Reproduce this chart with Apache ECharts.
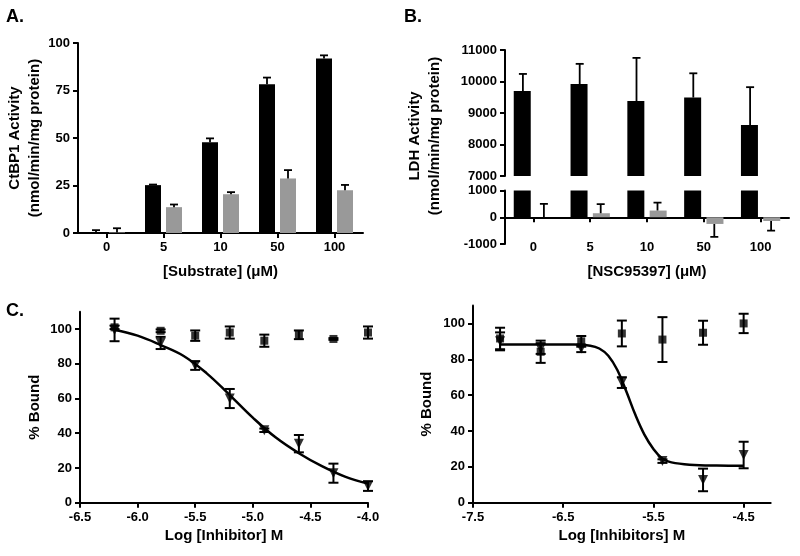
<!DOCTYPE html>
<html><head><meta charset="utf-8">
<script src="https://cdn.jsdelivr.net/npm/echarts@6/dist/echarts.min.js"></script>
<style>html,body{margin:0;padding:0;background:#fff}#c{width:800px;height:556px}</style>
</head><body><div id="c"></div>
<script>
// Panel A
const substrateCats = ['0', '5', '10', '50', '100'];
const ctbpBlack = [0.3, 25.2, 47.7, 78.3, 91.9];
const ctbpBlackErr = [1.2, 0.3, 2.1, 3.5, 1.6];
const ctbpGray = [0.3, 13.6, 20.4, 28.7, 22.5];
const ctbpGrayErr = [2.2, 1.4, 1.1, 4.4, 2.8];

// Panel B
const nscCats = ['0', '5', '10', '50', '100'];
const ldhBlack = [9700, 9920, 9380, 9490, 8620];
const ldhBlackErr = [540, 640, 1370, 770, 1200];
const ldhGray = [0, 150, 250, -250, -140];
const ldhGrayErr = [500, 340, 300, 480, 360];

// Panel C (left)
const logInhibA = [-6.2, -5.8, -5.5, -5.2, -4.9, -4.6, -4.3, -4.0];
const ctrlA = [101, 99, 96.2, 98, 93.3, 96.7, 94.3, 98];
const ctrlAErr = [1, 0.8, 3, 3.5, 3.5, 2.5, 0.5, 3.5];
const inhA = [99.5, 92, 79, 60, 41.7, 34, 17, 9.6];
const inhAErr = [6.5, 3.5, 2.5, 5.5, 1, 5, 5.5, 2.8];
const fitAX = [-6.2, -6.0, -5.8, -5.6, -5.4, -5.2, -5.0, -4.8, -4.6, -4.4, -4.2, -4.0];
const fitAY = [99.6, 96.2, 90.8, 84.5, 74.5, 62, 49, 37.5, 28.5, 21, 15, 11];

// Panel C (right)
const logInhibB = [-7.2, -6.75, -6.3, -5.85, -5.4, -4.95, -4.5];
const ctrlB = [91.6, 84.2, 90, 94.4, 91, 94.8, 100];
const ctrlBErr = [6, 6.2, 3, 7.2, 12.5, 6.7, 5.4];
const inhB = [90, 86, 86, 67, 23.2, 12.7, 26.6];
const inhBErr = [5, 3, 2, 3, 1, 6.3, 7.4];
const fitBX = [-7.2, -6.8, -6.4, -6.2, -6.1, -6.0, -5.9, -5.8, -5.7, -5.6, -5.5, -5.4, -5.3, -5.1, -4.8, -4.5];
const fitBY = [88.3, 88.3, 88.2, 87.6, 86, 82, 74, 62, 49, 38, 30, 24.5, 22.5, 21.2, 20.7, 20.6];
const logTicksB = [-7.5, -6.5, -5.5, -4.5];
const boundTicks = [0, 20, 40, 60, 80, 100];

const FONT = '"Liberation Sans", Arial, Helvetica, sans-serif';
const BLACK = '#000', GRAY = '#999999';
const BAR_W = 16, BAR_GAP = 5;
const OFF = (BAR_W + BAR_GAP) / 2;
const AXW = 2;
const lab = { color: BLACK, fontFamily: FONT, fontWeight: 'bold', fontSize: 13 };
const nameSty = { color: BLACK, fontFamily: FONT, fontWeight: 'bold', fontSize: 15 };

function barErr(xi, yi, vals, errs, side) {
  return {
    type: 'custom', xAxisIndex: xi, yAxisIndex: yi, z: 5, clip: true,
    data: vals.map((v, i) => [i, v, errs[i]]),
    renderItem(params, api) {
      const i = api.value(0), v = api.value(1), e = api.value(2);
      const end = v >= 0 ? v + e : v - e;
      const p1 = api.coord([i, v]), p2 = api.coord([i, end]);
      const x = p1[0] + side * OFF, cap = 4;
      const st = { stroke: BLACK, lineWidth: 1.8 };
      return { type: 'group', children: [
        { type: 'line', shape: { x1: x, y1: p1[1], x2: x, y2: p2[1] }, style: st },
        { type: 'line', shape: { x1: x - cap, y1: p2[1], x2: x + cap, y2: p2[1] }, style: st }
      ]};
    }
  };
}
function ptErr(xi, yi, xs, ys, errs) {
  return {
    type: 'custom', xAxisIndex: xi, yAxisIndex: yi, z: 4,
    data: xs.map((x, i) => [x, ys[i], errs[i]]),
    renderItem(params, api) {
      const x = api.value(0), y = api.value(1), e = api.value(2);
      const pt = api.coord([x, y + e]), pb = api.coord([x, y - e]);
      const cx = pt[0], cap = 5;
      const st = { stroke: BLACK, lineWidth: 2 };
      return { type: 'group', children: [
        { type: 'line', shape: { x1: cx, y1: pt[1], x2: cx, y2: pb[1] }, style: st },
        { type: 'line', shape: { x1: cx - cap, y1: pt[1], x2: cx + cap, y2: pt[1] }, style: st },
        { type: 'line', shape: { x1: cx - cap, y1: pb[1], x2: cx + cap, y2: pb[1] }, style: st }
      ]};
    }
  };
}
const axLine = { show: true, onZero: false, lineStyle: { color: BLACK, width: AXW } };
const axTick = { show: true, length: 5, lineStyle: { color: BLACK, width: AXW } };
const plain = v => String(v);

const option = {
  animation: false,
  backgroundColor: '#fff',
  grid: [
    { left: 78, top: 43, width: 285, height: 190 },
    { left: 505, top: 50, width: 284, height: 126 },
    { left: 505, top: 190.5, width: 284, height: 53.5 },
    { left: 80, top: 311.7, width: 288, height: 191 },
    { left: 473, top: 305.5, width: 297.7, height: 197.2 },
    { left: 505, top: 190.5, width: 284, height: 26.8 }
  ],
  xAxis: [
    { type: 'category', gridIndex: 0, data: substrateCats, axisLine: axLine,
      axisTick: Object.assign({ alignWithLabel: true, interval: 0 }, axTick),
      axisLabel: Object.assign({ margin: 8, interval: 0 }, lab),
      name: '[Substrate] (\u03bcM)', nameLocation: 'middle', nameGap: 31, nameTextStyle: nameSty },
    { type: 'category', gridIndex: 1, data: nscCats, show: false },
    { type: 'category', gridIndex: 2, data: nscCats, show: false },
    { type: 'value', gridIndex: 3, min: -6.5, max: -4.0, interval: 0.5, axisLine: axLine, axisTick: axTick,
      splitLine: { show: false },
      axisLabel: Object.assign({ margin: 8, formatter: v => v.toFixed(1) }, lab),
      name: 'Log [Inhibitor] M', nameLocation: 'middle', nameGap: 26, nameTextStyle: nameSty },
    { type: 'value', gridIndex: 4, min: -7.5, max: -4.2, axisLine: axLine,
      axisTick: Object.assign({ customValues: logTicksB }, axTick),
      splitLine: { show: false },
      axisLabel: Object.assign({ margin: 8, customValues: logTicksB, formatter: v => v.toFixed(1) }, lab),
      name: 'Log [Inhibitors] M', nameLocation: 'middle', nameGap: 26, nameTextStyle: nameSty },
    { type: 'category', gridIndex: 5, data: nscCats, axisLine: axLine,
      axisTick: Object.assign({ alignWithLabel: true, interval: 0 }, axTick),
      axisLabel: Object.assign({ margin: 24, interval: 0 }, lab),
      name: '[NSC95397] (\u03bcM)', nameLocation: 'middle', nameGap: 47, nameTextStyle: nameSty }
  ],
  yAxis: [
    { type: 'value', gridIndex: 0, min: 0, max: 100, interval: 25, axisLine: axLine, axisTick: axTick,
      splitLine: { show: false }, axisLabel: Object.assign({ margin: 8, formatter: plain }, lab) },
    { type: 'value', gridIndex: 1, min: 7000, max: 11000, interval: 1000, axisLine: axLine, axisTick: axTick,
      splitLine: { show: false }, axisLabel: Object.assign({ margin: 8, formatter: plain }, lab) },
    { type: 'value', gridIndex: 2, min: -1000, max: 1000, interval: 1000, axisLine: axLine, axisTick: axTick,
      splitLine: { show: false }, axisLabel: Object.assign({ margin: 8, formatter: plain }, lab) },
    { type: 'value', gridIndex: 3, min: 0, max: 110, axisLine: axLine,
      axisTick: Object.assign({ customValues: boundTicks }, axTick), splitLine: { show: false },
      axisLabel: Object.assign({ margin: 8, customValues: boundTicks, formatter: plain }, lab),
      name: '% Bound', nameLocation: 'middle', nameGap: 38, nameTextStyle: nameSty },
    { type: 'value', gridIndex: 4, min: 0, max: 110, axisLine: axLine,
      axisTick: Object.assign({ customValues: boundTicks }, axTick), splitLine: { show: false },
      axisLabel: Object.assign({ margin: 8, customValues: boundTicks, formatter: plain }, lab),
      name: '% Bound', nameLocation: 'middle', nameGap: 39, nameTextStyle: nameSty },
    { type: 'value', gridIndex: 5, show: false }
  ],
  graphic: [
    { type: 'text', left: 6, top: 8, style: { text: 'A.', font: 'bold 18px ' + FONT, fill: BLACK } },
    { type: 'text', left: 404, top: 8, style: { text: 'B.', font: 'bold 18px ' + FONT, fill: BLACK } },
    { type: 'text', left: 6, top: 302, style: { text: 'C.', font: 'bold 18px ' + FONT, fill: BLACK } },
    { type: 'text', x: 25, y: 138, rotation: Math.PI / 2,
      style: { text: 'CtBP1 Activity\n(nmol/min/mg protein)', font: 'bold 15px ' + FONT, fill: BLACK,
        textAlign: 'center', textVerticalAlign: 'middle', align: 'center', verticalAlign: 'middle', lineHeight: 20 } },
    { type: 'text', x: 425, y: 136, rotation: Math.PI / 2,
      style: { text: 'LDH Activity\n(nmol/min/mg protein)', font: 'bold 15px ' + FONT, fill: BLACK,
        textAlign: 'center', textVerticalAlign: 'middle', align: 'center', verticalAlign: 'middle', lineHeight: 20 } }
  ],
  series: [
    { type: 'bar', xAxisIndex: 0, yAxisIndex: 0, data: ctbpBlack, barWidth: BAR_W, barGap: (BAR_GAP / BAR_W * 100) + '%', itemStyle: { color: BLACK } },
    { type: 'bar', xAxisIndex: 0, yAxisIndex: 0, data: ctbpGray, barWidth: BAR_W, itemStyle: { color: GRAY } },
    barErr(0, 0, ctbpBlack, ctbpBlackErr, -1),
    barErr(0, 0, ctbpGray, ctbpGrayErr, 1),

    { type: 'bar', xAxisIndex: 1, yAxisIndex: 1, data: ldhBlack, barWidth: BAR_W + 1, barGap: (BAR_GAP / BAR_W * 100) + '%', itemStyle: { color: BLACK }, clip: true },
    { type: 'bar', xAxisIndex: 1, yAxisIndex: 1, data: ldhGray, barWidth: BAR_W + 1, itemStyle: { color: GRAY }, clip: true },
    barErr(1, 1, ldhBlack, ldhBlackErr, -1),
    { type: 'bar', xAxisIndex: 2, yAxisIndex: 2, data: ldhBlack, barWidth: BAR_W + 1, barGap: (BAR_GAP / BAR_W * 100) + '%', itemStyle: { color: BLACK }, clip: true },
    { type: 'bar', xAxisIndex: 2, yAxisIndex: 2, data: ldhGray, barWidth: BAR_W + 1, itemStyle: { color: GRAY }, clip: true },
    barErr(2, 2, ldhGray, ldhGrayErr, 1),

    { type: 'line', xAxisIndex: 3, yAxisIndex: 3, data: fitAX.map((x, i) => [x, fitAY[i]]), smooth: 0.4,
      symbol: 'none', lineStyle: { color: BLACK, width: 2.5 }, z: 3 },
    ptErr(3, 3, logInhibA, ctrlA, ctrlAErr),
    ptErr(3, 3, logInhibA, inhA, inhAErr),
    { type: 'scatter', xAxisIndex: 3, yAxisIndex: 3, data: logInhibA.map((x, i) => [x, ctrlA[i]]), symbol: 'rect', symbolSize: 8, itemStyle: { color: BLACK }, z: 6 },
    { type: 'scatter', xAxisIndex: 3, yAxisIndex: 3, data: logInhibA.map((x, i) => [x, inhA[i]]), symbol: 'triangle', symbolRotate: 180, symbolSize: 10, itemStyle: { color: BLACK }, z: 6 },

    { type: 'line', xAxisIndex: 4, yAxisIndex: 4, data: fitBX.map((x, i) => [x, fitBY[i]]), smooth: 0.4,
      symbol: 'none', lineStyle: { color: BLACK, width: 2.5 }, z: 3 },
    ptErr(4, 4, logInhibB, ctrlB, ctrlBErr),
    ptErr(4, 4, logInhibB, inhB, inhBErr),
    { type: 'scatter', xAxisIndex: 4, yAxisIndex: 4, data: logInhibB.map((x, i) => [x, ctrlB[i]]), symbol: 'rect', symbolSize: 8, itemStyle: { color: BLACK }, z: 6 },
    { type: 'scatter', xAxisIndex: 4, yAxisIndex: 4, data: logInhibB.map((x, i) => [x, inhB[i]]), symbol: 'triangle', symbolRotate: 180, symbolSize: 10, itemStyle: { color: BLACK }, z: 6 }
  ]
};
const chart = echarts.init(document.getElementById('c'));
chart.setOption(option);
</script>
</body></html>
